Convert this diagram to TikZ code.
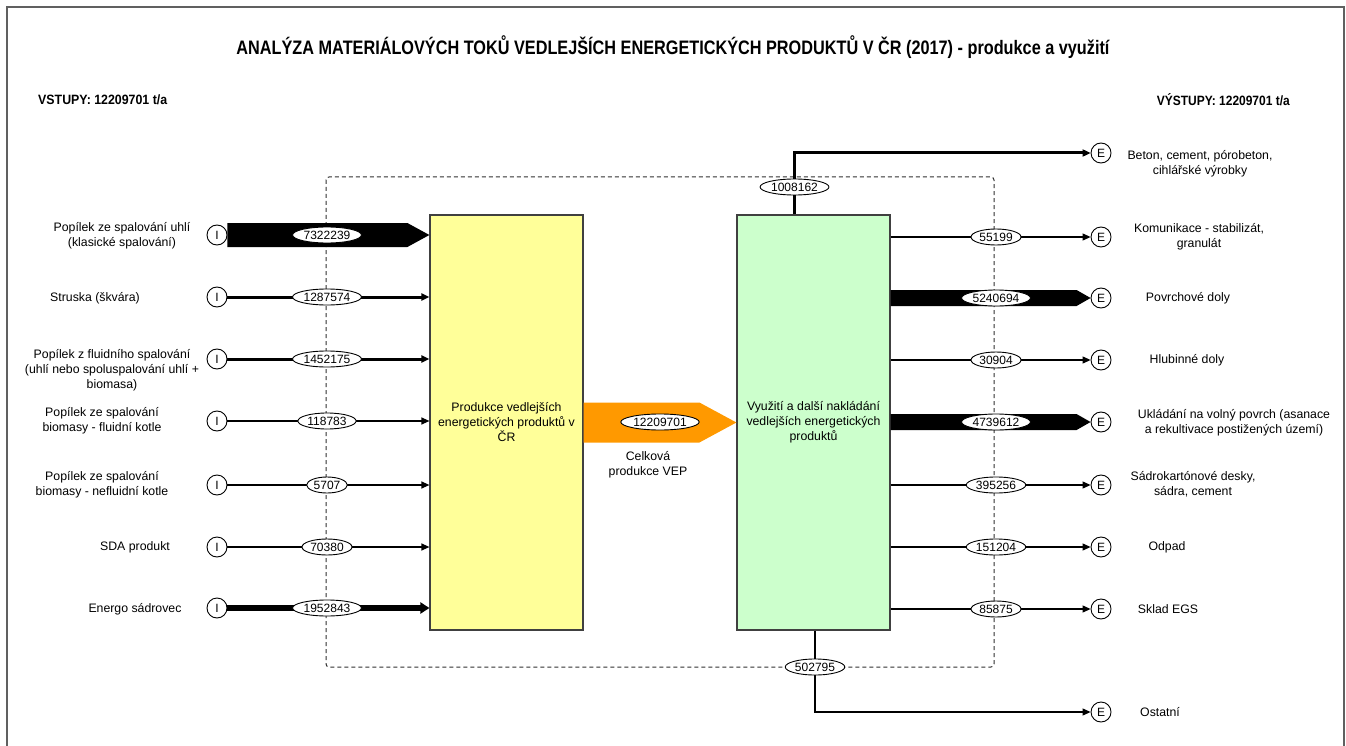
\documentclass[tikz,border=0pt]{standalone}
\usepackage{fontspec}
\setmainfont{Liberation Sans}
\usepackage{graphicx}
\usetikzlibrary{arrows.meta,calc,shapes.geometric}
\definecolor{yel}{HTML}{FFFF99}
\definecolor{grn}{HTML}{CCFFCC}
\definecolor{org}{HTML}{FF9900}
\definecolor{frm}{HTML}{606060}
\definecolor{bord}{HTML}{404040}
\definecolor{dsh}{HTML}{303030}
\begin{document}
\begin{tikzpicture}[x=1pt,y=-1pt,
  lbl/.style={font=\fontsize{12.3}{15}\selectfont, align=center, inner sep=0pt},
  io/.style={circle, draw=black, line width=0.9pt, fill=white, minimum size=20pt, inner sep=0pt, font=\fontsize{12}{14}\selectfont},
  val/.style={ellipse, draw=black, line width=0.9pt, fill=white, inner xsep=1pt, inner ysep=0pt, minimum height=16pt, font=\fontsize{12}{14}\selectfont},
  flowbox/.style={draw=bord, line width=1.2pt, minimum width=153pt, minimum height=415pt, align=center, inner sep=0pt, font=\fontsize{12.3}{15}\selectfont},
  arr/.style={-{Triangle[length=8pt,width=7pt]}},
  arrfat/.style={-{Triangle[length=9pt,width=11pt]}},
  flowthin/.style={line width=1.2pt},
  flowmid/.style={line width=3pt},
  flowfat/.style={line width=5.5pt},
  bigflow/.style={fill=black},
  sysbound/.style={draw=dsh, line width=1pt, dash pattern=on 4pt off 3pt, rounded corners=3pt}
]
\useasboundingbox (0,0) rectangle (1346,746);
% frame
\draw[frm, line width=1.5pt] (7,746) -- (7,7) -- (1344,7) -- (1344,746);

% title and totals
\node[inner sep=0pt] (title) at (673,47) {\resizebox{873pt}{\height}{\fontsize{19.5}{22}\selectfont\bfseries ANALÝZA MATERIÁLOVÝCH TOKŮ VEDLEJŠÍCH ENERGETICKÝCH PRODUKTŮ V ČR (2017) - produkce a využití}};
\node[inner sep=0pt, anchor=west] (vstupy) at (38,100) {\resizebox{129pt}{\height}{\fontsize{13.5}{15}\selectfont\bfseries VSTUPY: 12209701 t/a}};
\node[inner sep=0pt, anchor=east] (vystupy) at (1290,100) {\resizebox{133pt}{\height}{\fontsize{13.5}{15}\selectfont\bfseries VÝSTUPY: 12209701 t/a}};

% system boundary
\draw[sysbound] (326,177) rectangle (994,667);

% process boxes
\node[flowbox, fill=yel] (prod) at (506.5,422.5) {Produkce vedlejších\\energetických produktů v\\ČR};
\node[flowbox, fill=grn] (vyuz) at (813.5,422.5) {Využití a další nakládání\\vedlejších energetických\\produktů};

% input nodes
\node[io] (i1) at (217,235) {I};
\node[io] (i2) at (217,297) {I};
\node[io] (i3) at (217,359) {I};
\node[io] (i4) at (217,421) {I};
\node[io] (i5) at (217,485) {I};
\node[io] (i6) at (217,547) {I};
\node[io] (i7) at (217,608) {I};

% output nodes
\node[io] (e1) at (1101,153) {E};
\node[io] (e2) at (1101,237) {E};
\node[io] (e3) at (1101,298) {E};
\node[io] (e4) at (1101,360) {E};
\node[io] (e5) at (1101,422) {E};
\node[io] (e6) at (1101,485) {E};
\node[io] (e7) at (1101,547) {E};
\node[io] (e8) at (1101,609) {E};
\node[io] (e9) at (1101,712) {E};

% input labels
\node[lbl] (l1) at (122,235.5) {Popílek ze spalování uhlí\\(klasické spalování)};
\node[lbl] (l2) at (95,298) {Struska (škvára)};
\node[lbl] (l3) at (112,370) {Popílek z fluidního spalování\\(uhlí nebo spoluspalování uhlí +\\biomasa)};
\node[lbl] (l4) at (102,420.5) {Popílek ze spalování\\biomasy - fluidní kotle};
\node[lbl] (l5) at (102,484.5) {Popílek ze spalování\\biomasy - nefluidní kotle};
\node[lbl] (l6) at (135,547) {SDA produkt};
\node[lbl] (l7) at (135,609) {Energo sádrovec};

% output labels
\node[lbl] (r1) at (1200,163.5) {Beton, cement, pórobeton,\\cihlářské výrobky};
\node[lbl] (r2) at (1199,236.5) {Komunikace - stabilizát,\\granulát};
\node[lbl] (r3) at (1188,298) {Povrchové doly};
\node[lbl] (r4) at (1187,360) {Hlubinné doly};
\node[lbl] (r5) at (1234,422.5) {Ukládání na volný povrch (asanace\\a rekultivace postižených území)};
\node[lbl] (r6) at (1193,484.5) {Sádrokartónové desky,\\sádra, cement};
\node[lbl] (r7) at (1167,547) {Odpad};
\node[lbl] (r8) at (1168,609) {Sklad EGS};
\node[lbl] (r9) at (1160,712) {Ostatní};
\node[lbl] (celk) at (648,464.5) {Celková\\produkce VEP};

% input flows
\fill[bigflow] ($(i1.east)+(0,-12)$) -- ($(i1 -| prod.west)+(-22,-12)$) -- (i1 -| prod.west) -- ($(i1 -| prod.west)+(-22,12)$) -- ($(i1.east)+(0,12)$) -- cycle;
\draw[flowmid, arr] (i2) -- (i2 -| prod.west);
\draw[flowmid, arr] (i3) -- (i3 -| prod.west);
\draw[flowthin, arr] (i4) -- (i4 -| prod.west);
\draw[flowthin, arr] (i5) -- (i5 -| prod.west);
\draw[flowthin, arr] (i6) -- (i6 -| prod.west);
\draw[flowfat, arrfat] (i7) -- (i7 -| prod.west);

% total flow
\fill[org] ($(prod.east)+(0,-20)$) -- ($(vyuz.west)+(-37,-20)$) -- (vyuz.west) -- ($(vyuz.west)+(-37,20)$) -- ($(prod.east)+(0,20)$) -- cycle;

% output flows
\draw[flowmid, arr] ($(vyuz.north)+(-19,0)$) |- (e1);
\draw[flowthin, arr] (vyuz.east |- e2) -- (e2);
\fill[bigflow] ($(vyuz.east |- e3)+(0,-8)$) -- ($(e3.west)+(-14,-8)$) -- (e3.west) -- ($(e3.west)+(-14,8)$) -- ($(vyuz.east |- e3)+(0,8)$) -- cycle;
\draw[flowthin, arr] (vyuz.east |- e4) -- (e4);
\fill[bigflow] ($(vyuz.east |- e5)+(0,-8)$) -- ($(e5.west)+(-14,-8)$) -- (e5.west) -- ($(e5.west)+(-14,8)$) -- ($(vyuz.east |- e5)+(0,8)$) -- cycle;
\draw[flowthin, arr] (vyuz.east |- e6) -- (e6);
\draw[flowthin, arr] (vyuz.east |- e7) -- (e7);
\draw[flowthin, arr] (vyuz.east |- e8) -- (e8);
\draw[flowthin, arr] ($(vyuz.south)+(1.5,0)$) |- (e9);

% values
\node[val] (v1) at (327,235) {7322239};
\node[val] (v2) at (327,297) {1287574};
\node[val] (v3) at (327,359) {1452175};
\node[val] (v4) at (327,421) {118783};
\node[val] (v5) at (327,485) {5707};
\node[val] (v6) at (327,547) {70380};
\node[val] (v7) at (327,608) {1952843};
\node[val] (vt) at (660,422) {12209701};
\node[val] (w1) at (794.5,187) {1008162};
\node[val] (w2) at (996,237) {55199};
\node[val] (w3) at (996,298) {5240694};
\node[val] (w4) at (996,360) {30904};
\node[val] (w5) at (996,422) {4739612};
\node[val] (w6) at (996,485) {395256};
\node[val] (w7) at (996,547) {151204};
\node[val] (w8) at (996,609) {85875};
\node[val] (w9) at (815,667) {502795};
\end{tikzpicture}
\end{document}
